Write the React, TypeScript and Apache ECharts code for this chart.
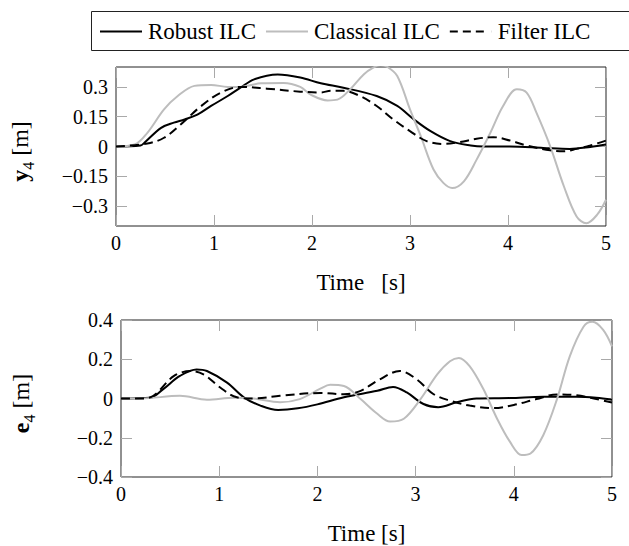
import React, { useEffect, useRef } from 'react';
import * as echarts from 'echarts';

const FONT = "'Liberation Serif', 'Times New Roman', serif";

const seriesNames = ['Robust ILC', 'Classical ILC', 'Filter ILC'];
const xTicks = [0, 1, 2, 3, 4, 5];
const yTicksTop = [-0.3, -0.15, 0, 0.15, 0.3];
const yTicksBottom = [-0.4, -0.2, 0, 0.2, 0.4];

// Top plot: y4 [m]
const robustTopT = [0, 0.25, 0.29, 0.46, 0.59, 0.7, 0.83, 0.97, 1.14, 1.27, 1.41, 1.65, 1.88, 2.09, 2.32, 2.66, 2.87, 3.04, 3.21, 3.41, 3.62, 3.75, 4.02, 4.36, 4.63, 4.84, 5.0];
const robustTopV = [0, 0.005, 0.019, 0.094, 0.12, 0.136, 0.16, 0.204, 0.254, 0.296, 0.338, 0.362, 0.347, 0.318, 0.296, 0.254, 0.204, 0.136, 0.077, 0.027, 0.005, 0, 0, -0.007, -0.012, -0.002, 0.01];

const classicalTopT = [0, 0.19, 0.32, 0.49, 0.63, 0.8, 0.97, 1.14, 1.27, 1.48, 1.71, 1.88, 1.99, 2.16, 2.26, 2.39, 2.53, 2.63, 2.7, 2.77, 2.87, 3.0, 3.11, 3.24, 3.34, 3.43, 3.55, 3.68, 3.82, 3.95, 4.09, 4.19, 4.29, 4.43, 4.57, 4.7, 4.8, 4.91, 5.0];
const classicalTopV = [0, 0.01, 0.069, 0.187, 0.254, 0.305, 0.31, 0.3, 0.3, 0.318, 0.32, 0.3, 0.26, 0.232, 0.236, 0.288, 0.364, 0.398, 0.41, 0.4, 0.355, 0.187, 0.052, -0.116, -0.183, -0.209, -0.175, -0.066, 0.069, 0.204, 0.288, 0.271, 0.17, 0.002, -0.2, -0.352, -0.386, -0.343, -0.268];

const filterTopT = [0, 0.32, 0.49, 0.66, 0.87, 1.07, 1.27, 1.54, 1.88, 2.09, 2.19, 2.32, 2.49, 2.66, 2.83, 3.0, 3.17, 3.34, 3.51, 3.68, 3.85, 4.02, 4.19, 4.43, 4.57, 4.7, 4.84, 5.0];
const filterTopV = [0, 0.015, 0.044, 0.111, 0.204, 0.271, 0.3, 0.291, 0.276, 0.272, 0.28, 0.28, 0.254, 0.204, 0.136, 0.077, 0.027, 0.013, 0.022, 0.039, 0.047, 0.03, 0.005, -0.019, -0.024, -0.012, 0.005, 0.03];

// Bottom plot: e4 [m]
const robustBotT = [0, 0.3, 0.43, 0.6, 0.77, 0.875, 1.08, 1.25, 1.42, 1.6, 1.8, 2.0, 2.27, 2.61, 2.77, 2.91, 3.08, 3.23, 3.42, 3.62, 3.96, 4.3, 4.64, 4.84, 5.0];
const robustBotV = [0, 0.004, 0.048, 0.115, 0.148, 0.14, 0.081, 0.006, -0.036, -0.058, -0.05, -0.03, 0.006, 0.039, 0.059, 0.031, -0.028, -0.044, -0.019, 0, 0.002, 0.009, 0.009, 0.004, -0.006];

const classicalBotT = [0, 0.2, 0.6, 0.875, 1.15, 1.35, 1.62, 1.82, 2.03, 2.13, 2.27, 2.44, 2.61, 2.74, 2.88, 3.05, 3.22, 3.35, 3.44, 3.55, 3.69, 3.83, 3.96, 4.08, 4.17, 4.3, 4.44, 4.57, 4.71, 4.8, 4.91, 5.0];
const classicalBotV = [0, 0, 0.014, -0.006, 0.004, 0, -0.019, -0.003, 0.05, 0.07, 0.064, -0.003, -0.078, -0.117, -0.103, -0.003, 0.123, 0.19, 0.207, 0.165, 0.048, -0.103, -0.22, -0.288, -0.28, -0.187, -0.003, 0.215, 0.366, 0.391, 0.35, 0.266];

const filterBotT = [0, 0.2, 0.33, 0.54, 0.71, 0.84, 1.01, 1.18, 1.35, 1.62, 2.03, 2.27, 2.44, 2.61, 2.84, 3.01, 3.18, 3.35, 3.55, 3.79, 4.0, 4.23, 4.44, 4.64, 4.84, 5.0];
const filterBotV = [0, 0, 0.014, 0.115, 0.14, 0.123, 0.056, 0.006, 0, 0.014, 0.028, 0.022, 0.039, 0.09, 0.14, 0.098, 0.023, -0.011, -0.036, -0.049, -0.033, -0.003, 0.021, 0.016, -0.003, -0.02];

const zip = (t: number[], v: number[]) => t.map((x, i) => [x, v[i]]);

const fmtNum = (v: number) => {
  const r = Math.round(v * 100) / 100;
  if (r === 0) return '0';
  return r < 0 ? '\u2212' + String(Math.abs(r)) : String(r);
};

const tickStyle = { show: true, inside: true, length: 11, lineStyle: { color: '#a9a9a9', width: 1 } };

function xAxisCfg(gridIndex: number, position: 'bottom' | 'top', name: string) {
  const main = position === 'bottom';
  return {
    type: 'value',
    gridIndex,
    position,
    min: 0,
    max: 5,
    interval: 1,
    axisLine: { show: false, onZero: false },
    axisTick: { ...tickStyle, customValues: xTicks },
    splitLine: { show: false },
    axisLabel: main
      ? { show: true, customValues: xTicks, margin: 7, fontSize: 20, fontFamily: FONT, color: '#000', formatter: (v: number) => String(v) }
      : { show: false },
    name: main ? name : '',
    nameLocation: 'middle',
    nameGap: 45,
    nameTextStyle: { fontSize: 23, fontFamily: FONT, color: '#000' },
  };
}

function yAxisCfg(gridIndex: number, position: 'left' | 'right', ticks: number[], name: string, gap: number) {
  const main = position === 'left';
  return {
    type: 'value',
    gridIndex,
    position,
    min: -0.4,
    max: 0.4,
    axisLine: { show: false, onZero: false },
    axisTick: { ...tickStyle, customValues: ticks },
    splitLine: { show: false },
    axisLabel: main
      ? { show: true, customValues: ticks, margin: 8, fontSize: 20, fontFamily: FONT, color: '#000', formatter: fmtNum }
      : { show: false },
    name: main ? name : '',
    nameLocation: 'middle',
    nameRotate: 90,
    nameGap: gap,
    nameTextStyle: {
      fontSize: 24,
      fontFamily: FONT,
      color: '#000',
      padding: [0, 10, 0, 0],
      rich: {
        b: { fontWeight: 'bold', fontSize: 24, fontFamily: FONT, color: '#000', verticalAlign: 'middle', lineHeight: 24 },
        s: { fontSize: 16, fontFamily: FONT, color: '#000', verticalAlign: 'bottom', lineHeight: 32 },
        n: { fontSize: 24, fontFamily: FONT, color: '#000', verticalAlign: 'middle', lineHeight: 24 },
      },
    },
  };
}

const lineStyles = [
  { color: '#000', width: 2, type: 'solid' as any },
  { color: '#bdbdbd', width: 2, type: 'solid' as any },
  { color: '#000', width: 2, type: [9, 5] as any },
];

const solidIcon = 'path://M0,0h42v2h-42z';
const dashedIcon = 'path://M0,0h8v2h-8z M13,0h8v2h-8z M26,0h8v2h-8z M41.9,0h0.1v2h-0.1z';
const legendIcons = [solidIcon, solidIcon, dashedIcon];

function mkSeries(name: string, idx: number, axisIndex: number, data: number[][]) {
  return {
    name,
    type: 'line',
    xAxisIndex: axisIndex,
    yAxisIndex: axisIndex,
    data,
    smooth: 0.35,
    symbol: 'none',
    showSymbol: false,
    lineStyle: lineStyles[idx],
    itemStyle: { color: lineStyles[idx].color },
    clip: true,
    z: 2 + idx,
  };
}

export default function App() {
  const ref = useRef<HTMLDivElement>(null);
  useEffect(() => {
    document.body.style.margin = '0';
    const chart = echarts.init(ref.current!, null, { renderer: 'svg' });
    const option: any = {
      animation: false,
      backgroundColor: '#fff',
      textStyle: { fontFamily: FONT },
      grid: [
        { left: 115, top: 67, width: 491, height: 159, show: true, borderColor: '#222', borderWidth: 1, backgroundColor: 'transparent', containLabel: false },
        { left: 121, top: 320, width: 491, height: 159, show: true, borderColor: '#222', borderWidth: 1, backgroundColor: 'transparent', containLabel: false },
      ],
      legend: {
        data: seriesNames.map((n, i) => ({ name: n, icon: legendIcons[i] })),
        left: 100,
        top: 20,
        padding: 0,
        itemWidth: 42,
        itemHeight: 2,
        itemGap: 10,
        itemStyle: { borderWidth: 0 },
        textStyle: { fontSize: 23, fontFamily: FONT, color: '#000', padding: [0, 0, 0, 1] },
      },
      graphic: [
        {
          type: 'rect',
          silent: true,
          shape: { x: 91.5, y: 11.5, width: 560, height: 39 },
          style: { fill: 'none', stroke: '#222', lineWidth: 1 },
        },
      ],
      xAxis: [
        xAxisCfg(0, 'bottom', 'Time   [s]'),
        xAxisCfg(1, 'bottom', 'Time [s]'),
        xAxisCfg(0, 'top', ''),
        xAxisCfg(1, 'top', ''),
      ],
      yAxis: [
        yAxisCfg(0, 'left', yTicksTop, '{b|y}{s|4}{n| [m]}', 80),
        yAxisCfg(1, 'left', yTicksBottom, '{b|e}{s|4}{n| [m]}', 84),
        yAxisCfg(0, 'right', yTicksTop, '', 0),
        yAxisCfg(1, 'right', yTicksBottom, '', 0),
      ],
      series: [
        mkSeries(seriesNames[0], 0, 0, zip(robustTopT, robustTopV)),
        mkSeries(seriesNames[1], 1, 0, zip(classicalTopT, classicalTopV)),
        mkSeries(seriesNames[2], 2, 0, zip(filterTopT, filterTopV)),
        mkSeries(seriesNames[0], 0, 1, zip(robustBotT, robustBotV)),
        mkSeries(seriesNames[1], 1, 1, zip(classicalBotT, classicalBotV)),
        mkSeries(seriesNames[2], 2, 1, zip(filterBotT, filterBotV)),
      ],
    };
    chart.setOption(option);
    return () => chart.dispose();
  }, []);
  return <div ref={ref} style={{ width: 629, height: 546 }} />;
}
